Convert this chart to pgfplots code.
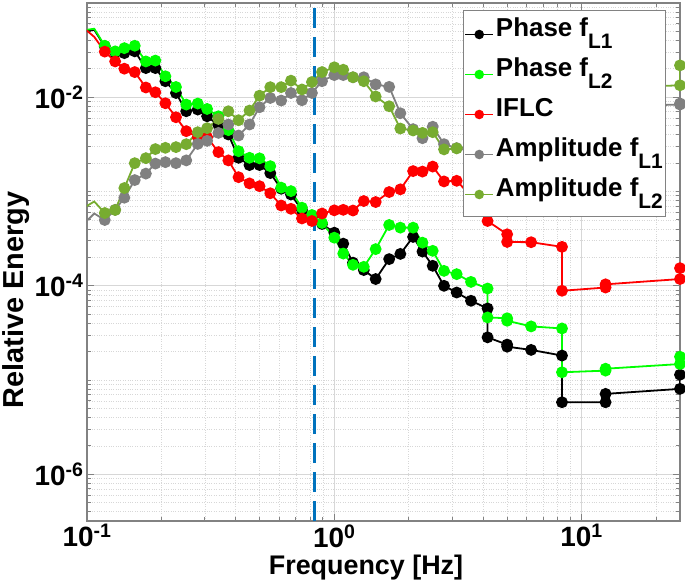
\documentclass[border=0pt]{standalone}
\usepackage{fontspec}
\setmainfont{Liberation Sans}
\usepackage{pgfplots}
\pgfplotsset{compat=1.18}
\definecolor{mgreen}{RGB}{0,255,0}
\definecolor{mred}{RGB}{255,0,0}
\definecolor{mgray}{RGB}{128,128,128}
\definecolor{molive}{RGB}{119,172,48}
\definecolor{mblue}{RGB}{0,114,189}
\definecolor{gridc}{RGB}{215,215,215}
\definecolor{axc}{RGB}{130,130,130}
\newcommand\lsub[1]{\raisebox{-12bp}{\fontsize{21}{21}\selectfont #1}}
\begin{document}
\begin{tikzpicture}
\useasboundingbox (0,0) rectangle (685bp,588bp);
\begin{axis}[
  at={(87bp,67bp)}, anchor=south west,
  width=593bp, height=518bp, scale only axis,
  xmode=log, ymode=log,
  xmin=0.1, xmax=25, ymin=3.2e-7, ymax=0.1,
  xtick={0.1,1,10},
  xticklabels={10\textsuperscript{-1},10\textsuperscript{0},10\textsuperscript{1}},
  ytick={1e-6,1e-4,1e-2},
  yticklabels={10\textsuperscript{-6},10\textsuperscript{-4},10\textsuperscript{-2}},
  minor xtick={0.2,0.3,0.4,0.5,0.6,0.7,0.8,0.9,2,3,4,5,6,7,8,9,20},
  minor ytick={4e-7,5e-7,6e-7,7e-7,8e-7,9e-7,2e-6,3e-6,4e-6,5e-6,6e-6,7e-6,8e-6,9e-6,1e-5,2e-5,3e-5,4e-5,5e-5,6e-5,7e-5,8e-5,9e-5,2e-4,3e-4,4e-4,5e-4,6e-4,7e-4,8e-4,9e-4,1e-3,2e-3,3e-3,4e-3,5e-3,6e-3,7e-3,8e-3,9e-3,2e-2,3e-2,4e-2,5e-2,6e-2,7e-2,8e-2,9e-2},
  grid=both,
  major grid style={gridc, line width=0.8bp},
  minor grid style={gridc, dotted, line width=0.8bp},
  axis line style={axc, line width=1.2bp},
  tick style={axc, line width=1bp},
  major tick length=7bp, minor tick length=4bp,
  tick align=inside,
  ticklabel style={font=\bfseries\fontsize{28}{30}\selectfont},
  xlabel={Frequency [Hz]}, ylabel={Relative Energy},
  xlabel style={font=\bfseries\fontsize{27}{29}\selectfont, at={(axis description cs:0.4705,-0.0907)}, anchor=center},
  ylabel style={font=\bfseries\fontsize{29}{31}\selectfont, at={(axis description cs:-0.1197,0.4266)}, anchor=center},
  clip marker paths=false,
  every axis plot/.append style={line width=1.8bp, mark=*, mark size=5bp, mark phase=2},
  legend style={at={(0.977,0.9865)}, anchor=north east, draw=axc, fill=white, line width=1bp,
    font=\bfseries\fontsize{26}{28}\selectfont, inner xsep=1bp, inner ysep=3bp, row sep=0bp,
    nodes={inner sep=2bp, text height=21bp, text depth=15bp}},
  legend cell align=left,
  legend image code/.code={\draw[#1, mark repeat=2, mark phase=2, mark size=4bp, line width=1.5bp, yshift=-1bp] plot coordinates {(0bp,0bp) (14bp,0bp) (28bp,0bp)};},
]
\addplot[black] coordinates {(0.0975,4.95e-2)(0.107,5.20e-2)(0.118,3.47e-2)(0.130,2.99e-2)(0.1416,2.94e-2)(0.156,3.07e-2)(0.173,2.04e-2)(0.189,2.04e-2)(0.2075,1.48e-2)(0.229,1.11e-2)(0.252,7.11e-3)(0.2805,7.41e-3)(0.306,6.29e-3)(0.340,5.06e-3)(0.373,4.03e-3)(0.410,2.28e-3)(0.454,1.91e-3)(0.4986,1.91e-3)(0.551,1.57e-3)(0.610,1.07e-3)(0.668,9.30e-4)(0.740,6.37e-4)(0.812,5.51e-4)(0.892,4.53e-4)(1.0,3.66e-4)(1.087,2.80e-4)(1.19,1.76e-4)(1.316,1.47e-4)(1.47,1.18e-4)(1.667,1.92e-4)(1.85,2.18e-4)(2.083,3.30e-4)(2.273,2.31e-4)(2.5,1.63e-4)(2.778,1.0e-4)(3.125,8.49e-5)(3.571,6.94e-5)(4.167,5.75e-5)(4.167,2.84e-5)(5,2.38e-5)(5,2.26e-5)(6.25,2.09e-5)(8.333,1.82e-5)(8.333,5.82e-6)(12.5,5.82e-6)(12.5,7.14e-6)(25,8.07e-6)(25,1.14e-5)};
\addlegendentry{Phase f\lsub{L1}}
\addplot[mgreen] coordinates {(0.0975,5.15e-2)(0.107,5.33e-2)(0.118,3.52e-2)(0.130,3.07e-2)(0.1416,3.32e-2)(0.156,3.52e-2)(0.173,2.40e-2)(0.189,2.45e-2)(0.2075,1.67e-2)(0.229,1.285e-2)(0.252,8.37e-3)(0.2805,8.58e-3)(0.306,7.52e-3)(0.340,6.29e-3)(0.373,4.48e-3)(0.410,2.68e-3)(0.454,2.28e-3)(0.4986,2.25e-3)(0.551,1.86e-3)(0.610,1.10e-3)(0.668,1.01e-3)(0.740,6.74e-4)(0.812,5.64e-4)(0.892,4.64e-4)(1.0,3.24e-4)(1.087,2.20e-4)(1.19,1.67e-4)(1.316,1.59e-4)(1.47,2.45e-4)(1.667,4.42e-4)(1.85,4.14e-4)(2.083,4.14e-4)(2.273,2.87e-4)(2.5,2.35e-4)(2.778,1.44e-4)(3.125,1.33e-4)(3.571,1.10e-4)(4.167,9.36e-5)(4.167,4.62e-5)(5,4.53e-5)(5,4.26e-5)(6.25,3.71e-5)(8.333,3.53e-5)(8.333,1.21e-5)(12.5,1.26e-5)(12.5,1.32e-5)(25,1.48e-5)(25,1.77e-5)};
\addlegendentry{Phase f\lsub{L2}}
\addplot[mred] coordinates {(0.0975,5.38e-2)(0.107,4.37e-2)(0.118,3.05e-2)(0.130,2.40e-2)(0.1416,2.01e-2)(0.156,1.85e-2)(0.173,1.27e-2)(0.189,1.13e-2)(0.2075,8.64e-3)(0.229,6.14e-3)(0.252,4.37e-3)(0.2805,3.77e-3)(0.306,3.77e-3)(0.340,2.62e-3)(0.373,2.14e-3)(0.410,1.42e-3)(0.454,1.22e-3)(0.4986,1.14e-3)(0.551,9.59e-4)(0.610,7.11e-4)(0.668,6.56e-4)(0.740,5.18e-4)(0.812,4.87e-4)(0.892,5.85e-4)(1.0,6.32e-4)(1.087,6.40e-4)(1.19,6.29e-4)(1.316,7.93e-4)(1.47,7.74e-4)(1.667,9.88e-4)(1.85,1.055e-3)(2.083,1.648e-3)(2.273,1.628e-3)(2.5,1.84e-3)(2.778,1.28e-3)(3.125,1.30e-3)(3.571,8.96e-4)(4.167,7.02e-4)(4.167,4.87e-4)(5,3.52e-4)(5,2.92e-4)(6.25,2.90e-4)(8.333,2.59e-4)(8.333,8.86e-5)(12.5,9.59e-5)(12.5,1.037e-4)(25,1.18e-4)(25,1.54e-4)};
\addlegendentry{IFLC}
\addplot[mgray] coordinates {(0.0975,4.59e-4)(0.107,5.85e-4)(0.118,4.99e-4)(0.130,6.40e-4)(0.1416,8.60e-4)(0.156,1.323e-3)(0.173,1.55e-3)(0.189,1.98e-3)(0.2075,2.05e-3)(0.229,2.00e-3)(0.252,2.14e-3)(0.2805,3.20e-3)(0.306,3.45e-3)(0.340,4.19e-3)(0.373,5.14e-3)(0.410,3.93e-3)(0.454,5.14e-3)(0.4986,7.84e-3)(0.551,9.83e-3)(0.610,9.23e-3)(0.668,1.11e-2)(0.740,9.30e-3)(0.812,1.11e-2)(0.892,1.48e-2)(1.0,1.72e-2)(1.087,1.72e-2)(1.19,1.63e-2)(1.316,1.63e-2)(1.47,1.37e-2)(1.667,1.29e-2)(1.85,6.77e-3)(2.083,4.59e-3)(2.273,3.68e-3)(2.5,4.87e-3)(2.778,3.18e-3)(3.125,2.89e-3)(3.571,2.68e-3)(4.167,2.55e-3)(4.167,3.42e-3)(5,3.87e-3)(5,4.06e-3)(6.25,4.59e-3)(8.333,4.93e-3)(8.333,7.11e-3)(12.5,7.84e-3)(12.5,8.03e-3)(25,8.37e-3)(25,8.6e-3)};
\addlegendentry{Amplitude f\lsub{L1}}
\addplot[molive] coordinates {(0.0975,6.77e-4)(0.107,7.84e-4)(0.118,5.92e-4)(0.130,6.37e-4)(0.1416,1.089e-3)(0.156,2.00e-3)(0.173,2.26e-3)(0.189,2.82e-3)(0.2075,2.91e-3)(0.229,2.96e-3)(0.252,3.18e-3)(0.2805,4.26e-3)(0.306,4.70e-3)(0.340,5.89e-3)(0.373,7.11e-3)(0.410,5.71e-3)(0.454,7.23e-3)(0.4986,1.04e-2)(0.551,1.28e-2)(0.610,1.28e-2)(0.668,1.50e-2)(0.740,1.21e-2)(0.812,1.45e-2)(0.892,1.85e-2)(1.0,2.08e-2)(1.087,1.96e-2)(1.19,1.63e-2)(1.316,1.48e-2)(1.47,1.02e-2)(1.667,8.03e-3)(1.85,4.66e-3)(2.083,4.44e-3)(2.273,4.19e-3)(2.5,4.26e-3)(2.778,2.80e-3)(3.125,2.87e-3)(3.571,3.03e-3)(4.167,3.42e-3)(4.167,4.37e-3)(5,4.93e-3)(5,5.30e-3)(6.25,6.29e-3)(8.333,7.11e-3)(8.333,1.02e-2)(12.5,1.22e-2)(12.5,1.25e-2)(25,1.34e-2)(25,2.18e-2)};
\addlegendentry{Amplitude f\lsub{L2}}
\addplot[mblue, line width=3.5bp, dash pattern=on 20bp off 9bp, mark=none, forget plot] coordinates {(0.83,3.2e-7)(0.83,0.1)};
\end{axis}
\end{tikzpicture}
\end{document}
